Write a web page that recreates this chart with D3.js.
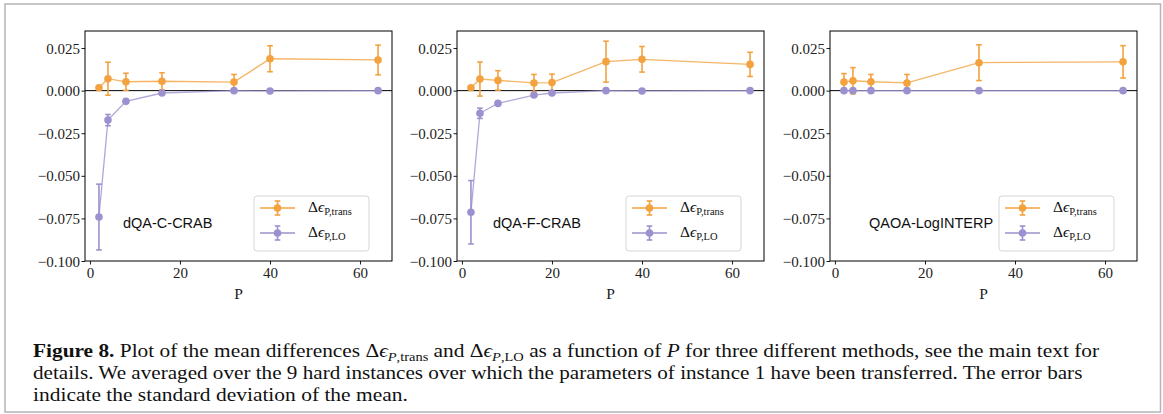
<!DOCTYPE html>
<html><head><meta charset="utf-8">
<script src="https://cdn.jsdelivr.net/npm/d3@7"></script>
<style>body{margin:0;background:#fff;} svg{display:block;}</style>
</head><body>
<script>
// ---------- data ----------
const panelNames = ["dQA-C-CRAB", "dQA-F-CRAB", "QAOA-LogINTERP"];

const pC = [2, 4, 8, 16, 32, 40, 64];
const transC = [0.0017, 0.0070, 0.0052, 0.0055, 0.0050, 0.0187, 0.0180];
const transErrC = [0.0008, 0.0097, 0.0050, 0.0050, 0.0045, 0.0076, 0.0087];
const loC = [-0.0742, -0.0173, -0.0063, -0.0014, 0.0000, -0.0002, 0.0000];
const loErrC = [0.0193, 0.0033, 0.0010, 0.0005, 0.0001, 0.0001, 0.0001];

const pF = [2, 4, 8, 16, 20, 32, 40, 64];
const transF = [0.0017, 0.0068, 0.0060, 0.0045, 0.0047, 0.0170, 0.0184, 0.0154];
const transErrF = [0.0008, 0.0100, 0.0057, 0.0050, 0.0050, 0.0120, 0.0075, 0.0071];
const loF = [-0.0714, -0.0133, -0.0075, -0.0026, -0.0014, 0.0000, -0.0002, 0.0000];
const loErrF = [0.0186, 0.0030, 0.0010, 0.0006, 0.0004, 0.0001, 0.0001, 0.0001];

const pQ = [2, 4, 8, 16, 32, 64];
const transQ = [0.0050, 0.0058, 0.0052, 0.0045, 0.0164, 0.0169];
const transErrQ = [0.0050, 0.0077, 0.0043, 0.0050, 0.0105, 0.0095];
const loQ = [0, 0, 0, 0, 0, 0];
const loErrQ = [0, 0, 0, 0, 0, 0];

const xTicks = [0, 20, 40, 60];
const yTicks = [0.025, 0.000, -0.025, -0.050, -0.075, -0.100];
const xLabel = "P";

const panels = [
  {name: panelNames[0], p: pC, trans: transC, transErr: transErrC, lo: loC, loErr: loErrC},
  {name: panelNames[1], p: pF, trans: transF, transErr: transErrF, lo: loF, loErr: loErrF},
  {name: panelNames[2], p: pQ, trans: transQ, transErr: transErrQ, lo: loQ, loErr: loErrQ}
];

// ---------- styles / layout ----------
const W = 1163, H = 414;
const orange = "#F3A23F", purple = "#9C91CE";
const lefts = [85, 457, 830];
const pw = 307, axTop = 31, axBottom = 261;
const serif = "'Liberation Serif','DejaVu Serif',serif";
const sans = "'Liberation Sans',Arial,sans-serif";

const svg = d3.select("body").append("svg").attr("width", W).attr("height", H);
svg.append("rect").attr("width", W).attr("height", H).attr("fill", "#fff");
svg.append("rect").attr("x", 5).attr("y", 4).attr("width", 1155.5).attr("height", 408)
  .attr("fill", "none").attr("stroke", "#b4b4b4").attr("stroke-width", 1.5);

const fmt = v => (v < 0 ? "\u2212" : "") + Math.abs(v).toFixed(3);

function legendLabel(g, x, y, sub) {
  const t = g.append("text").attr("x", x).attr("y", y).attr("font-family", serif)
    .attr("font-size", 15.5).attr("fill", "#111");
  t.append("tspan").text("\u0394");
  t.append("tspan").attr("font-style", "italic").text("\u03F5");
  t.append("tspan").attr("font-size", 10.5).attr("dy", 3).text(sub);
}

panels.forEach((d, i) => {
  const L = lefts[i];
  const x = d3.scaleLinear().domain([-1.1, 67.1]).range([L, L + pw]);
  const y = d3.scaleLinear().domain([-0.1, 0.035]).range([axBottom, axTop]);
  const g = svg.append("g");

  // axes
  const ya = g.append("g").attr("transform", `translate(${L},0)`)
    .call(d3.axisLeft(y).tickValues(yTicks).tickFormat(fmt).tickSize(3.5).tickSizeOuter(0));
  const xa = g.append("g").attr("transform", `translate(0,${axBottom})`)
    .call(d3.axisBottom(x).tickValues(xTicks).tickFormat(d3.format("d")).tickSize(3.5).tickSizeOuter(0));
  [ya, xa].forEach(a => {
    a.select(".domain").remove();
    a.selectAll("text").attr("font-family", serif).attr("font-size", 15).attr("fill", "#222");
    a.selectAll("line").attr("stroke", "#000").attr("stroke-width", 0.9);
  });
  ya.selectAll("text").attr("x", -5).attr("dy", "0.34em");
  xa.selectAll("text").attr("y", 6).attr("dy", "0.76em");

  g.append("text").attr("x", L + pw / 2).attr("y", 299).attr("text-anchor", "middle")
    .attr("font-family", serif).attr("font-size", 15.5).attr("fill", "#222").text(xLabel);

  // zero line
  g.append("line").attr("x1", L).attr("x2", L + pw).attr("y1", y(0)).attr("y2", y(0))
    .attr("stroke", "#000").attr("stroke-width", 1);

  const series = [
    {vals: d.trans, errs: d.transErr, color: orange},
    {vals: d.lo, errs: d.loErr, color: purple}
  ];
  series.forEach(s => {
    const pts = d.p.map((p, k) => ({p, v: s.vals[k], e: s.errs[k]}));
    g.append("path").datum(pts)
      .attr("d", d3.line().x(q => x(q.p)).y(q => y(q.v)))
      .attr("fill", "none").attr("stroke", s.color).attr("stroke-width", 1.3).attr("opacity", 0.8);
    const eb = g.append("g").attr("stroke", s.color).attr("stroke-width", 1.6);
    pts.forEach(q => {
      if (q.e <= 0) return;
      const y1 = y(q.v - q.e), y2 = y(q.v + q.e);
      eb.append("line").attr("x1", x(q.p)).attr("x2", x(q.p)).attr("y1", y1).attr("y2", y2);
      eb.append("line").attr("x1", x(q.p) - 2.8).attr("x2", x(q.p) + 2.8).attr("y1", y1).attr("y2", y1);
      eb.append("line").attr("x1", x(q.p) - 2.8).attr("x2", x(q.p) + 2.8).attr("y1", y2).attr("y2", y2);
    });
    g.selectAll(null).data(pts).enter().append("circle")
      .attr("cx", q => x(q.p)).attr("cy", q => y(q.v)).attr("r", 3.8).attr("fill", s.color);
  });

  // frame
  g.append("rect").attr("x", L).attr("y", axTop).attr("width", pw).attr("height", axBottom - axTop)
    .attr("fill", "none").attr("stroke", "#000").attr("stroke-width", 1);

  // method label
  const labelX = [123, 493, 869][i];
  g.append("text").attr("x", labelX).attr("y", 228).attr("font-family", sans)
    .attr("font-size", 14.5).attr("fill", "#111").text(d.name);

  // legend
  const lgx = L + pw - 138, lgy = 196;
  const lg = g.append("g");
  lg.append("rect").attr("x", lgx).attr("y", lgy).attr("width", 115).attr("height", 55).attr("rx", 3)
    .attr("fill", "#fff").attr("fill-opacity", 0.85).attr("stroke", "#d6d6d6").attr("stroke-width", 1);
  [[orange, "P,trans", 12], [purple, "P,LO", 37]].forEach(([c, sub, dy]) => {
    const cy = lgy + dy, hx1 = lgx + 6, hx2 = lgx + 41, hm = (hx1 + hx2) / 2;
    lg.append("line").attr("x1", hx1).attr("x2", hx2).attr("y1", cy).attr("y2", cy)
      .attr("stroke", c).attr("stroke-width", 1.6);
    lg.append("line").attr("x1", hm).attr("x2", hm).attr("y1", cy - 7).attr("y2", cy + 7)
      .attr("stroke", c).attr("stroke-width", 1.6);
    [cy - 7, cy + 7].forEach(yy => lg.append("line").attr("x1", hm - 2.8).attr("x2", hm + 2.8)
      .attr("y1", yy).attr("y2", yy).attr("stroke", c).attr("stroke-width", 1.6));
    lg.append("circle").attr("cx", hm).attr("cy", cy).attr("r", 3.8).attr("fill", c);
    legendLabel(lg, lgx + 54, cy + 4, sub);
  });
});

// ---------- caption ----------
const capX = 33;
const cap = svg.append("g").attr("font-family", serif).attr("font-size", 18.5).attr("fill", "#111");
function capLine(yb, targetW, build) {
  const t = cap.append("text").attr("x", 0).attr("y", 0);
  build(t);
  const w = t.node().getComputedTextLength();
  t.attr("transform", `translate(${capX},${yb}) scale(${targetW / w},1)`);
}
capLine(357, 1067, t => {
  t.append("tspan").attr("font-weight", "bold").text("Figure 8.");
  t.append("tspan").text(" Plot of the mean differences \u0394");
  t.append("tspan").attr("font-style", "italic").text("\u03F5");
  t.append("tspan").attr("font-size", 12.5).attr("dy", 4).attr("font-style", "italic").text("P");
  t.append("tspan").attr("font-size", 12.5).text(",trans");
  t.append("tspan").attr("dy", -4).text(" and \u0394");
  t.append("tspan").attr("font-style", "italic").text("\u03F5");
  t.append("tspan").attr("font-size", 12.5).attr("dy", 4).attr("font-style", "italic").text("P");
  t.append("tspan").attr("font-size", 12.5).text(",LO");
  t.append("tspan").attr("dy", -4).text(" as a function of ");
  t.append("tspan").attr("font-style", "italic").text("P");
  t.append("tspan").text(" for three different methods, see the main text for");
});
capLine(379, 1050, t => t.text("details. We averaged over the 9 hard instances over which the parameters of instance 1 have been transferred. The error bars"));
capLine(401, 375, t => t.text("indicate the standard deviation of the mean."));
</script>
</body></html>
